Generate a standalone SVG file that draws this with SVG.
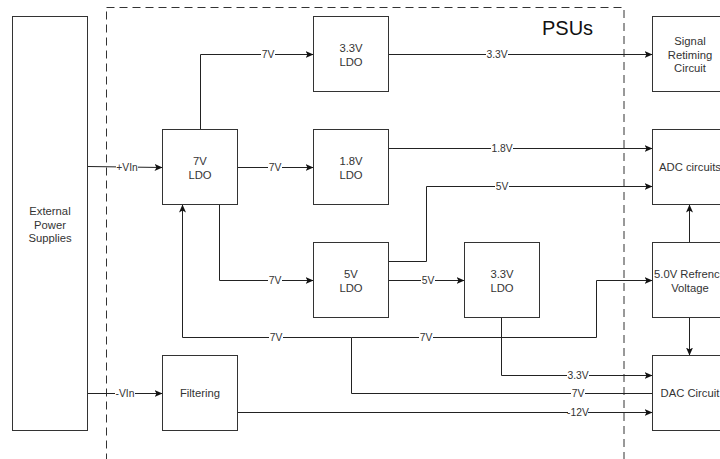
<svg xmlns="http://www.w3.org/2000/svg" width="720" height="459" viewBox="0 0 720 459">
<style>
.box{fill:#fff;stroke:#333;stroke-width:1}
.t{font-family:"Liberation Sans",Arial,Helvetica,sans-serif;font-size:11.25px;fill:#333;text-anchor:middle}
.e{fill:none;stroke:#222;stroke-width:1}
.lb{fill:#fff}
.l{font-family:"Liberation Sans",Arial,Helvetica,sans-serif;font-size:10.3px;fill:#333;text-anchor:middle}
.ttl{font-family:"Liberation Sans",Arial,Helvetica,sans-serif;font-size:20px;fill:#111}
</style>
<defs>
<marker id="arr" markerUnits="userSpaceOnUse" markerWidth="10" markerHeight="10" refX="8" refY="3.5" orient="auto">
<path d="M0,0 L8,3.5 L0,7 L2,3.5 Z" fill="#111"/>
</marker>
</defs>
<g id="psus">
<rect x="106.5" y="7.5" width="517.5" height="470" fill="none" stroke="#333" stroke-dasharray="8 5"/>
<text class="ttl" x="542" y="35">PSUs</text>
</g>
<g id="edges">
<path class="e" d="M87.5,166.5 L162.5,167.5" marker-end="url(#arr)"/>
<path class="e" d="M200.5,129.5 V54.5 H313.5" marker-end="url(#arr)"/>
<path class="e" d="M237.5,167.5 H313.5" marker-end="url(#arr)"/>
<path class="e" d="M219.5,204.5 V280.5 H313.5" marker-end="url(#arr)"/>
<path class="e" d="M388.5,54.5 H652.5" marker-end="url(#arr)"/>
<path class="e" d="M388.5,148.5 H652.5" marker-end="url(#arr)"/>
<path class="e" d="M388.5,261.5 H426.5 V186.5 H652.5" marker-end="url(#arr)"/>
<path class="e" d="M388.5,280.5 H464.5" marker-end="url(#arr)"/>
<path class="e" d="M652.5,393.5 H351.5 V337.5 H182.5 V204.5" marker-end="url(#arr)"/>
<path class="e" d="M351.5,337.5 H596.5 V280.5 H652.5" marker-end="url(#arr)"/>
<path class="e" d="M689.5,317.5 V355.5" marker-end="url(#arr)"/>
<path class="e" d="M689.5,242.5 V204.5" marker-end="url(#arr)"/>
<path class="e" d="M501.5,317.5 V375.5 H652.5" marker-end="url(#arr)"/>
<path class="e" d="M237.5,412.5 H652.5" marker-end="url(#arr)"/>
<path class="e" d="M87.5,393.5 H162.5" marker-end="url(#arr)"/>
<g id="labels">
<rect class="lb" x="116" y="161" width="22" height="12"/><text class="l" x="127" y="171">+VIn</text>
<rect class="lb" x="261" y="48" width="14" height="12"/><text class="l" x="268" y="58">7V</text>
<rect class="lb" x="268" y="161" width="14" height="12"/><text class="l" x="275" y="171">7V</text>
<rect class="lb" x="268" y="274" width="14" height="12"/><text class="l" x="275" y="284">7V</text>
<rect class="lb" x="486" y="48" width="22" height="12"/><text class="l" x="497" y="58">3.3V</text>
<rect class="lb" x="491" y="142" width="22" height="12"/><text class="l" x="502" y="152">1.8V</text>
<rect class="lb" x="495" y="180" width="14" height="12"/><text class="l" x="502" y="190">5V</text>
<rect class="lb" x="421" y="274" width="14" height="12"/><text class="l" x="428" y="284">5V</text>
<rect class="lb" x="269" y="331" width="14" height="12"/><text class="l" x="276" y="341">7V</text>
<rect class="lb" x="419" y="331" width="14" height="12"/><text class="l" x="426" y="341">7V</text>
<rect class="lb" x="567" y="369" width="22" height="12"/><text class="l" x="578" y="379">3.3V</text>
<rect class="lb" x="571" y="387" width="14" height="12"/><text class="l" x="578" y="397">7V</text>
<rect class="lb" x="568" y="406" width="20" height="12"/><text class="l" x="578" y="416">-12V</text>
<rect class="lb" x="115" y="387" width="20" height="12"/><text class="l" x="125" y="397">-VIn</text>
</g>
</g>
<g id="ext"><rect class="box" x="12.5" y="16.5" width="75" height="414"/>
<text class="t" x="50" y="215">External</text><text class="t" x="50" y="228.5">Power</text><text class="t" x="50" y="242">Supplies</text></g>
<g id="ldo7"><rect class="box" x="162.5" y="129.5" width="75" height="75"/>
<text class="t" x="200" y="165">7V</text><text class="t" x="200" y="178.5">LDO</text></g>
<g id="ldo33a"><rect class="box" x="313.5" y="16.5" width="75" height="75"/>
<text class="t" x="351" y="52">3.3V</text><text class="t" x="351" y="65.5">LDO</text></g>
<g id="ldo18"><rect class="box" x="313.5" y="129.5" width="75" height="75"/>
<text class="t" x="351" y="165">1.8V</text><text class="t" x="351" y="178.5">LDO</text></g>
<g id="ldo5"><rect class="box" x="313.5" y="242.5" width="75" height="75"/>
<text class="t" x="351" y="278">5V</text><text class="t" x="351" y="291.5">LDO</text></g>
<g id="ldo33b"><rect class="box" x="464.5" y="242.5" width="75" height="75"/>
<text class="t" x="502" y="278">3.3V</text><text class="t" x="502" y="291.5">LDO</text></g>
<g id="filt"><rect class="box" x="162.5" y="355.5" width="75" height="75"/>
<text class="t" x="200" y="397">Filtering</text></g>
<g id="sig"><rect class="box" x="652.5" y="16.5" width="75" height="75"/>
<text class="t" x="690" y="45">Signal</text><text class="t" x="690" y="58.5">Retiming</text><text class="t" x="690" y="72">Circuit</text></g>
<g id="adc"><rect class="box" x="652.5" y="129.5" width="75" height="75"/>
<text class="t" x="690" y="171">ADC circuits</text></g>
<g id="ref"><rect class="box" x="652.5" y="242.5" width="75" height="75"/>
<text class="t" x="690" y="278">5.0V Refrence</text><text class="t" x="690" y="291.5">Voltage</text></g>
<g id="dac"><rect class="box" x="652.5" y="355.5" width="75" height="75"/>
<text class="t" x="690" y="397">DAC Circuit</text></g>
</svg>
